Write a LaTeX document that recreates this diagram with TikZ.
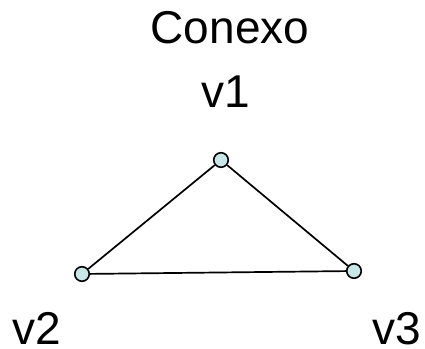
\documentclass[tikz,border=0pt]{standalone}
\usepackage{fontspec}
\setmainfont{Liberation Sans}
\begin{document}
\begin{tikzpicture}[x=1pt,y=1pt,
  vert/.style={circle,draw=black,line width=1.6pt,fill=vfill,minimum size=14.5pt,inner sep=0pt},
  lbl/.style={font=\fontsize{46}{52}\selectfont,anchor=base,inner sep=0pt},
  edge/.style={line width=1.7pt}]
\definecolor{vfill}{RGB}{200,230,232}
\useasboundingbox (0,0) rectangle (425,348);
\node[lbl] (title) at (230,304) {Conexo};
\node[lbl] (l1) at (226,240) {v1};
\node[lbl] (l2) at (37,4) {v2};
\node[lbl] (l3) at (397,4) {v3};
\node[vert] (v1) at (221,188) {};
\node[vert] (v2) at (82,74) {};
\node[vert] (v3) at (354,77) {};
\draw[edge] (v1) -- (v2);
\draw[edge] (v1) -- (v3);
\draw[edge] (v2) -- (v3);
\end{tikzpicture}
\end{document}
